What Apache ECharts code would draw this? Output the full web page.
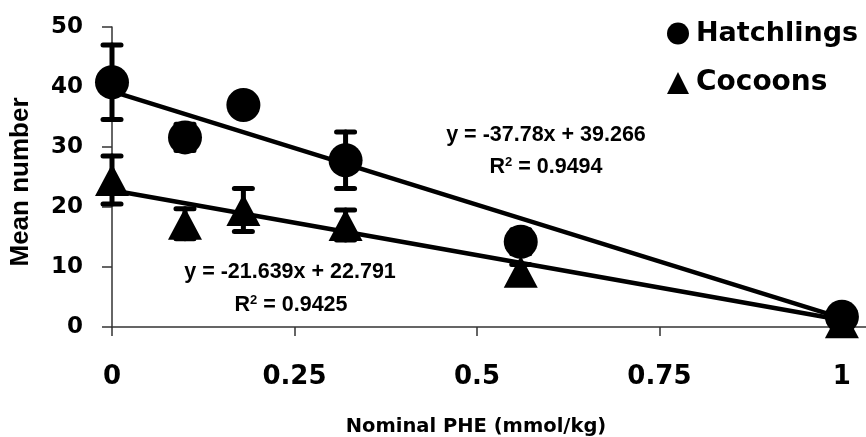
<!DOCTYPE html>
<html>
<head>
<meta charset="utf-8">
<script src="https://cdn.jsdelivr.net/npm/echarts@6/dist/echarts.min.js"></script>
<style>
  html, body { margin: 0; padding: 0; background: #fff; }
  #chart { width: 866px; height: 437px; }
</style>
</head>
<body>
<div id="chart"></div>
<script>
// PHE concentration (mmol/kg) for each treatment
var doses = [0, 0.1, 0.18, 0.32, 0.56, 1.0];

// Mean hatchlings and their error
var hatchMean = [40.8, 31.6, 37.0, 27.8, 14.2, 1.7];
var hatchErr  = [6.2, 2.2, 1.5, 4.7, 2.0, 1.0];

// Mean cocoons and their error
var cocoonMean = [24.5, 17.2, 19.5, 17.0, 9.2, 0.8];
var cocoonErr  = [4.0, 2.5, 3.6, 2.5, 1.2, 0.5];

// Linear fits as printed: y = slope * x + intercept
var hatchFit  = { slope: -37.78, intercept: 39.266, r2: '0.9494' };
var cocoonFit = { slope: -21.639, intercept: 22.791, r2: '0.9425' };

var xTickLabels = [0, 0.25, 0.5, 0.75, 1];
var yTickLabels = [0, 10, 20, 30, 40, 50];

function points(xs, ys) {
  return xs.map(function (x, i) { return [x, ys[i]]; });
}
function errRows(xs, ys, es) {
  return xs.map(function (x, i) { return [x, ys[i], es[i]]; });
}
function fitLine(fit) {
  return [[0, fit.intercept], [1, fit.slope * 1 + fit.intercept]];
}
function eqText(fit) {
  return 'y = ' + fit.slope + 'x + ' + fit.intercept;
}

// vertical error bar with flat caps
function renderErrorBar(params, api) {
  var x = api.value(0), m = api.value(1), e = api.value(2);
  var top = api.coord([x, m + e]);
  var bot = api.coord([x, m - e]);
  var half = 9;
  var st = { stroke: '#000', lineWidth: 5, lineCap: 'round' };
  return {
    type: 'group',
    children: [
      { type: 'line', shape: { x1: top[0], y1: top[1], x2: bot[0], y2: bot[1] }, style: st },
      { type: 'line', shape: { x1: top[0] - half, y1: top[1], x2: top[0] + half, y2: top[1] }, style: st },
      { type: 'line', shape: { x1: bot[0] - half, y1: bot[1], x2: bot[0] + half, y2: bot[1] }, style: st }
    ]
  };
}

var wideBold = 'DejaVu Sans';
var arial = 'Liberation Sans';
var eqFont = 'bold 21.5px "Liberation Sans"';
var supFont = 'bold 13px "Liberation Sans"';

function r2Text(fit) {
  return {
    text: '{a|R}{s|2}{a| = ' + fit.r2 + '}', align: 'center', verticalAlign: 'middle',
    rich: {
      a: { font: eqFont, fill: '#000' },
      s: { font: supFont, fill: '#000', verticalAlign: 'top', padding: [0, 0, 8, 0] }
    }
  };
}

var chart = echarts.init(document.getElementById('chart'), null, { renderer: 'canvas' });

chart.setOption({
  animation: false,
  backgroundColor: '#fff',
  grid: { left: 112, right: 0, top: 27, bottom: 110, containLabel: false, outerBoundsMode: 'none' },
  legend: {
    orient: 'vertical',
    left: 662,
    top: 15,
    itemWidth: 22,
    itemHeight: 22,
    itemGap: 22,
    textStyle: { fontFamily: wideBold, fontWeight: 'bold', color: '#000', fontSize: 27, lineHeight: 22, padding: [0, 0, 0, 2] },
    data: [
      { name: 'Hatchlings', icon: 'circle' },
      { name: 'Cocoons', icon: 'triangle', textStyle: { fontFamily: wideBold, fontWeight: 'bold', color: '#000', fontSize: 28, lineHeight: 22, padding: [0, 0, 0, 2] } }
    ]
  },
  xAxis: {
    type: 'value',
    min: 0,
    max: 1.033,
    interval: 0.25,
    name: 'Nominal PHE (mmol/kg)',
    nameLocation: 'middle',
    nameGap: 90,
    nameTextStyle: { fontFamily: wideBold, fontWeight: 'bold', fontSize: 19.5, color: '#000', padding: [0, 26, 0, 0] },
    splitLine: { show: false },
    axisLine: { show: true, lineStyle: { color: '#333', width: 1.5 } },
    axisTick: { show: true, length: 9, lineStyle: { color: '#333', width: 1.5 } },
    axisLabel: {
      showMaxLabel: false,
      margin: 37,
      fontFamily: wideBold, fontWeight: 'bold', fontSize: 26, color: '#000', lineHeight: 26,
      formatter: function (v) {
        var r = Math.round(v * 100) / 100;
        return xTickLabels.indexOf(r) >= 0 ? String(r) : '';
      }
    }
  },
  yAxis: {
    type: 'value',
    min: 0,
    max: 50,
    interval: 10,
    name: 'Mean number',
    nameLocation: 'middle',
    nameGap: 78,
    nameRotate: 90,
    nameTextStyle: { fontFamily: arial, fontWeight: 'bold', fontSize: 26, color: '#000', padding: [0, 10, 0, 0] },
    splitLine: { show: false },
    axisLine: { show: true, lineStyle: { color: '#333', width: 1.5 } },
    axisTick: { show: true, length: 10, lineStyle: { color: '#333', width: 1.5 } },
    axisLabel: {
      margin: 29,
      fontFamily: wideBold, fontWeight: 'bold', fontSize: 23, color: '#000',
      formatter: function (v) { return yTickLabels.indexOf(v) >= 0 ? String(v) : ''; }
    }
  },
  graphic: [
    { type: 'text', x: 546, y: 135, style: { text: eqText(hatchFit), font: eqFont, fill: '#000', align: 'center', verticalAlign: 'middle' } },
    { type: 'text', x: 546, y: 167, style: r2Text(hatchFit) },
    { type: 'text', x: 290, y: 272, style: { text: eqText(cocoonFit), font: eqFont, fill: '#000', align: 'center', verticalAlign: 'middle' } },
    { type: 'text', x: 291, y: 305, style: r2Text(cocoonFit) }
  ],
  series: [
    {
      type: 'line', data: fitLine(hatchFit), symbol: 'none', silent: true,
      lineStyle: { color: '#000', width: 4.5 }, z: 2
    },
    {
      type: 'line', data: fitLine(cocoonFit), symbol: 'none', silent: true,
      lineStyle: { color: '#000', width: 4.5 }, z: 2
    },
    {
      type: 'custom', renderItem: renderErrorBar, data: errRows(doses, hatchMean, hatchErr),
      encode: { x: 0, y: 1 }, silent: true, z: 3
    },
    {
      type: 'custom', renderItem: renderErrorBar, data: errRows(doses, cocoonMean, cocoonErr),
      encode: { x: 0, y: 1 }, silent: true, z: 3
    },
    {
      name: 'Hatchlings', type: 'scatter', symbol: 'circle', symbolSize: 34,
      data: points(doses, hatchMean), itemStyle: { color: '#000', opacity: 1 }, z: 4
    },
    {
      name: 'Cocoons', type: 'scatter', symbol: 'triangle', symbolSize: [34, 32],
      data: points(doses, cocoonMean), itemStyle: { color: '#000', opacity: 1 }, z: 4
    }
  ]
});
</script>
</body>
</html>
